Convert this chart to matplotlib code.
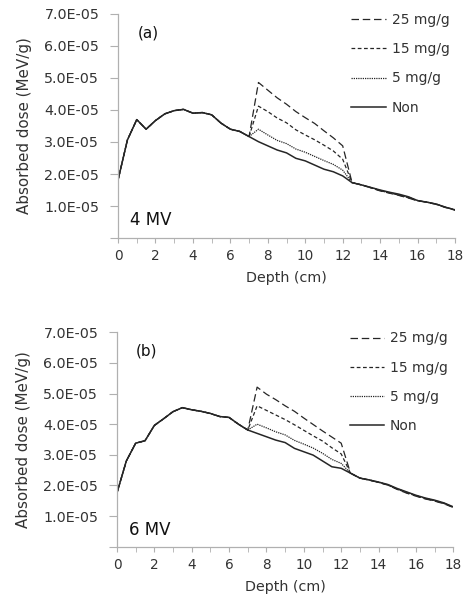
import matplotlib
matplotlib.use("Agg")
import matplotlib.pyplot as plt
from matplotlib.ticker import MultipleLocator, FuncFormatter

depth = [i * 0.5 for i in range(37)]

# Panel (a) 4 MV, values in 1E-05 MeV/g
a_non = [1.81, 3.06, 3.70, 3.40, 3.67, 3.88, 3.98, 4.02, 3.90, 3.92, 3.85, 3.59, 3.40, 3.33, 3.17,
         3.01, 2.88, 2.75, 2.66, 2.49, 2.41, 2.28, 2.15, 2.07, 1.94, 1.73,
         1.66, 1.58, 1.50, 1.43, 1.37, 1.29, 1.17, 1.12, 1.06, 0.96, 0.88]
a_5 = [1.81, 3.06, 3.70, 3.40, 3.67, 3.88, 3.98, 4.02, 3.90, 3.92, 3.85, 3.59, 3.40, 3.33, 3.17,
       3.40, 3.22, 3.05, 2.95, 2.78, 2.68, 2.55, 2.42, 2.30, 2.12, 1.73,
       1.66, 1.58, 1.49, 1.42, 1.35, 1.28, 1.17, 1.12, 1.06, 0.96, 0.88]
a_15 = [1.81, 3.06, 3.70, 3.40, 3.67, 3.88, 3.98, 4.02, 3.90, 3.92, 3.85, 3.59, 3.40, 3.33, 3.17,
        4.12, 3.95, 3.75, 3.60, 3.38, 3.22, 3.07, 2.90, 2.72, 2.46, 1.73,
        1.66, 1.57, 1.48, 1.41, 1.34, 1.26, 1.17, 1.12, 1.05, 0.96, 0.88]
a_25 = [1.81, 3.06, 3.70, 3.40, 3.67, 3.88, 3.98, 4.02, 3.90, 3.92, 3.85, 3.59, 3.40, 3.33, 3.17,
        4.86, 4.62, 4.38, 4.18, 3.95, 3.76, 3.58, 3.35, 3.13, 2.88, 1.73,
        1.66, 1.57, 1.47, 1.40, 1.33, 1.25, 1.16, 1.12, 1.05, 0.95, 0.87]

# Panel (b) 6 MV
b_non = [1.76, 2.80, 3.38, 3.46, 3.96, 4.18, 4.41, 4.54, 4.47, 4.42, 4.35, 4.25, 4.22, 4.00, 3.81,
         3.70, 3.59, 3.48, 3.40, 3.21, 3.10, 2.99, 2.80, 2.61, 2.56, 2.40,
         2.24, 2.18, 2.11, 2.03, 1.90, 1.79, 1.68, 1.59, 1.52, 1.43, 1.30]
b_5 = [1.76, 2.80, 3.38, 3.46, 3.96, 4.18, 4.41, 4.54, 4.47, 4.42, 4.35, 4.25, 4.22, 4.00, 3.81,
       4.00, 3.88, 3.75, 3.65, 3.47, 3.35, 3.22, 3.05, 2.85, 2.72, 2.40,
       2.24, 2.18, 2.11, 2.02, 1.89, 1.78, 1.67, 1.58, 1.51, 1.42, 1.30]
b_15 = [1.76, 2.80, 3.38, 3.46, 3.96, 4.18, 4.41, 4.54, 4.47, 4.42, 4.35, 4.25, 4.22, 4.00, 3.81,
        4.60, 4.45, 4.30, 4.15, 3.98, 3.80, 3.62, 3.45, 3.23, 3.03, 2.40,
        2.24, 2.18, 2.10, 2.01, 1.88, 1.76, 1.66, 1.57, 1.50, 1.41, 1.29]
b_25 = [1.76, 2.80, 3.38, 3.46, 3.96, 4.18, 4.41, 4.54, 4.47, 4.42, 4.35, 4.25, 4.22, 4.00, 3.81,
        5.21, 4.98, 4.80, 4.60, 4.42, 4.20, 3.99, 3.78, 3.58, 3.38, 2.40,
        2.24, 2.17, 2.10, 2.01, 1.87, 1.75, 1.65, 1.56, 1.49, 1.40, 1.28]

labels = ["25 mg/g", "15 mg/g", "5 mg/g", "Non"]
panel_tags = ["(a)", "(b)"]
energies = ["4 MV", "6 MV"]

plt.rcParams['font.family'] = ['DejaVu Sans']
fig = plt.figure(figsize=(4.63, 5.98), dpi=100)

axes_pos = [[0.2549, 0.602, 0.7279, 0.3746], [0.2527, 0.0858, 0.7263, 0.3585]]
panels = [(a_25, a_15, a_5, a_non), (b_25, b_15, b_5, b_non)]

styles = [dict(ls=(0, (6, 3)), lw=0.9), dict(ls=(0, (3, 2)), lw=0.9),
          dict(ls=(0, (1, 0.8)), lw=0.9), dict(ls='-', lw=1.1)]
txtc = '#333333'
spc = '#b0b0b0'

for i, (pos, series) in enumerate(zip(axes_pos, panels)):
    ax = fig.add_axes(pos)
    for s, lab, st in zip(series, labels, styles):
        ax.plot(depth, [v * 1e-5 for v in s], color='#262626', label=lab, **st)
    ax.set_xlim(0, 18)
    ax.set_ylim(0, 7e-5)
    for sp in ['top', 'right']:
        ax.spines[sp].set_visible(False)
    for sp in ['left', 'bottom']:
        ax.spines[sp].set_color(spc)
        ax.spines[sp].set_linewidth(0.9)
    ax.xaxis.set_major_locator(MultipleLocator(2))
    ax.xaxis.set_minor_locator(MultipleLocator(1))
    ax.yaxis.set_major_locator(MultipleLocator(1e-5))
    ax.yaxis.set_major_formatter(FuncFormatter(lambda v, p: "" if abs(v) < 1e-9 else "%.1E" % v))
    ax.tick_params(axis='both', which='both', direction='out', color=spc, labelcolor=txtc, labelsize=9.8)
    ax.tick_params(axis='x', which='both', length=3.8, pad=4)
    ax.tick_params(axis='y', length=5.5, pad=8, labelsize=10.3)
    ax.set_xlabel("Depth (cm)", fontsize=10.3, color=txtc, labelpad=6)
    ax.set_ylabel("Absorbed dose (MeV/g)", fontsize=10.9, color=txtc, labelpad=9)
    ax.text(1.6, 6.4e-5, panel_tags[i], fontsize=11, color='#111111', ha='center', va='center')
    ax.text(0.65, 0.55e-5, energies[i], fontsize=12, color='#111111', ha='left', va='center')
    leg = ax.legend(loc='upper right', frameon=False, fontsize=10, labelspacing=1.1,
                    handlelength=2.5, handletextpad=0.4, borderaxespad=0.0,
                    bbox_to_anchor=(1.0, 1.03))
    for t in leg.get_texts():
        t.set_color(txtc)

fig.savefig("out.png", dpi=100)
